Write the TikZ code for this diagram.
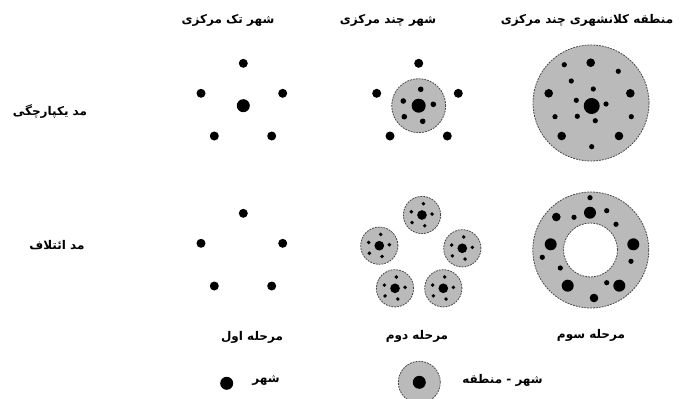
\documentclass[tikz,border=0pt]{standalone}
\usepackage{fontspec}
\TeXXeTstate=1
\newfontfamily\fa[Script=Arabic]{DejaVu Sans}
\definecolor{zonegray}{RGB}{186,186,186}
\definecolor{edgegray}{RGB}{70,70,70}
\tikzset{
  lbl/.style={font=\fa\bfseries\fontsize{12}{14}\selectfont, inner sep=0pt},
  zone/.style={fill=zonegray, draw=edgegray, line width=0.8pt, dash pattern=on 1.8pt off 1.1pt},
}
\newcommand{\dotat}[2]{\fill[black] (#1) circle[radius=#2pt];}
% small satellite-zone: center, scale
\newcommand{\smallzone}[2]{%
  \begin{scope}[shift={(#1)}]
    \path[zone] (0,0) circle[radius=#2*27pt];
    \fill (0,0) circle[radius=#2*7pt];
    \fill (#2*2,#2*-16.4) circle[radius=#2*2.8pt];
    \fill (#2*-15.4,#2*-4.7) circle[radius=#2*2.8pt];
    \fill (#2*14.6,#2*-1.4) circle[radius=#2*2.8pt];
    \fill (#2*-14.4,#2*11) circle[radius=#2*2.8pt];
    \fill (#2*4,#2*15.6) circle[radius=#2*2.8pt];
  \end{scope}}
\begin{document}
\begin{tikzpicture}[x=1pt,y=-1pt]
\useasboundingbox[fill=white] (0,0) rectangle (699,399);

% headers
\node[lbl] (h1) at (228,20) {\beginR شهر تک مرکزی\endR};
\node[lbl] (h2) at (388,20) {\beginR شهر چند مرکزی\endR};
\node[lbl] (h3) at (587,20) {\beginR منطقه کلانشهری چند مرکزی\endR};

% row labels
\node[lbl] (r1) at (50,112) {\beginR مد یکپارچگی\endR};
\node[lbl] (r2) at (57,245) {\beginR مد ائتلاف\endR};

% stage labels
\node[lbl] (s1) at (252,337) {\beginR مرحله اول\endR};
\node[lbl] (s2) at (417,336) {\beginR مرحله دوم\endR};
\node[lbl] (s3) at (591,335) {\beginR مرحله سوم\endR};

% cell 1 top
\dotat{243.3,63.3}{4.5}
\dotat{201,93.3}{4.5}
\dotat{282.7,93.3}{4.5}
\dotat{243.3,105.7}{6.5}
\dotat{214.3,136}{4.5}
\dotat{271.7,136}{4.5}

% cell 1 bottom
\dotat{243.3,213.3}{4.5}
\dotat{201,243.3}{4.5}
\dotat{282.7,243.3}{4.5}
\dotat{214.3,286}{4.5}
\dotat{271.7,286}{4.5}

% cell 2 top
\dotat{418.7,63.3}{4.5}
\dotat{376.7,93.3}{4.5}
\dotat{458.3,93.3}{4.5}
\dotat{390,136}{4.5}
\dotat{447.3,136}{4.5}
\smallzone{418.7,105.7}{1}

% cell 2 bottom
\smallzone{422,215}{0.69}
\smallzone{379.3,245.7}{0.69}
\smallzone{462.3,248.3}{0.69}
\smallzone{395,288.3}{0.69}
\smallzone{443.3,288.3}{0.69}

% cell 3 top
\path[zone] (591,103) circle[radius=58pt];
\dotat{564.3,64.7}{2.6}
\dotat{590.7,62.7}{4.3}
\dotat{618.3,71.3}{2.6}
\dotat{571.3,81}{2.6}
\dotat{593.3,89}{2.6}
\dotat{548.7,93.3}{4.3}
\dotat{630.3,93.3}{4.3}
\dotat{576.3,100.3}{2.6}
\dotat{591.7,106}{8}
\dotat{606,104}{2.6}
\dotat{555,116.7}{2.6}
\dotat{577.3,116.3}{2.6}
\dotat{595.3,120.7}{2.6}
\dotat{631.3,116.7}{2.6}
\dotat{561.7,136}{4.3}
\dotat{619,136}{4.3}
\dotat{591.7,146.7}{2.6}

% cell 3 bottom (ring)
\fill[zonegray, even odd rule] (590.8,250) circle[radius=58pt] (590.5,250) circle[radius=27pt];
\draw[draw=edgegray, line width=0.8pt, dash pattern=on 1.8pt off 1.1pt] (590.8,250) circle[radius=58pt];
\draw[draw=edgegray, line width=0.8pt, dash pattern=on 1.8pt off 1.1pt] (590.5,250) circle[radius=27pt];
\dotat{590,197.7}{2.6}
\dotat{590,212.7}{6}
\dotat{606.7,210.7}{2.6}
\dotat{556.3,217}{4.3}
\dotat{574,217.3}{2.6}
\dotat{616,224.3}{2.6}
\dotat{550.7,244.3}{6}
\dotat{633.3,244.3}{6}
\dotat{542.3,257.3}{2.6}
\dotat{631,261.3}{2.6}
\dotat{560.3,268}{2.6}
\dotat{567.7,285.7}{6}
\dotat{606.7,282.7}{2.6}
\dotat{619.3,285.7}{6}
\dotat{594,298}{4.3}

% legend
\dotat{226.7,383.3}{6.5}
\node[lbl] (l1) at (266,380) {\beginR شهر\endR};
\path[zone] (419.3,382.3) circle[radius=21pt];
\dotat{419.3,382.3}{6.5}
\node[lbl] (l2) at (502.5,380) {\beginR شهر - منطقه\endR};
\end{tikzpicture}
\end{document}
